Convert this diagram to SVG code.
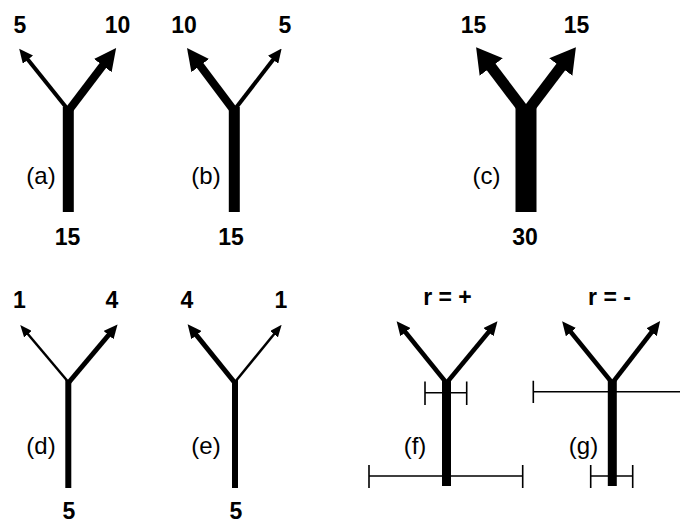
<svg xmlns="http://www.w3.org/2000/svg" width="680" height="519" viewBox="0 0 680 519">
  <style>
    .num { font-family: "Liberation Sans", Arial, sans-serif; font-weight: bold; font-size: 23px; text-anchor: middle; fill: #000; }
    .tag { font-family: "Liberation Sans", Arial, sans-serif; font-size: 24px; text-anchor: middle; fill: #000; }
    .stem { stroke: #000; stroke-linecap: butt; fill: none; }
    .branch { stroke: #000; stroke-linecap: butt; fill: none; }
    .bar { stroke: #000; stroke-width: 1.6; fill: none; }
  </style>
  <defs>
    <!-- arrowheads in user units; base sits at the line end, tip points forward -->
    <marker id="headS" markerUnits="userSpaceOnUse" viewBox="0 0 12 10" markerWidth="12" markerHeight="10" refX="1.5" refY="5" orient="auto">
      <path d="M0,0 L12,5 L0,10 z" fill="#000"/>
    </marker>
    <marker id="headM" markerUnits="userSpaceOnUse" viewBox="0 0 14 13" markerWidth="14" markerHeight="13" refX="1.5" refY="6.5" orient="auto">
      <path d="M0,0 L14,6.5 L0,13 z" fill="#000"/>
    </marker>
    <marker id="headL" markerUnits="userSpaceOnUse" viewBox="0 0 22 22" markerWidth="22" markerHeight="22" refX="2" refY="11" orient="auto">
      <path d="M0,0 L22,11 L0,22 z" fill="#000"/>
    </marker>
    <marker id="headXL" markerUnits="userSpaceOnUse" viewBox="0 0 25 29" markerWidth="25" markerHeight="29" refX="2" refY="14.5" orient="auto">
      <path d="M0,0 L25,14.5 L0,29 z" fill="#000"/>
    </marker>
  </defs>

  <!-- error bars (drawn beneath the stems) -->
  <g id="bars">
    <path class="bar" d="M425,392.7 H466.7 M425,381.5 V405 M466.7,381.5 V405"/>
    <path class="bar" d="M369,476 H522.7 M369,465 V488 M522.7,465 V488"/>
    <path class="bar" d="M533.3,391.7 H680 M533.3,380.7 V403"/>
    <path class="bar" d="M590.7,476 H632.7 M590.7,465 V488 M632.7,465 V488"/>
  </g>

  <g id="connectors">
    <!-- (a) -->
    <line class="stem" x1="68.3" y1="107" x2="68.3" y2="212" stroke-width="11"/>
    <path class="branch" d="M68.3,110 L27,58.5" stroke-width="4" marker-end="url(#headM)"/>
    <path class="branch" d="M68.3,111 L104,64" stroke-width="8" marker-end="url(#headL)"/>
    <!-- (b) -->
    <line class="stem" x1="234.3" y1="107" x2="234.3" y2="212" stroke-width="11"/>
    <path class="branch" d="M234.3,111 L199,64" stroke-width="8" marker-end="url(#headL)"/>
    <path class="branch" d="M234.3,110 L274,58.5" stroke-width="4" marker-end="url(#headM)"/>
    <!-- (c) -->
    <line class="stem" x1="526" y1="107" x2="526" y2="212" stroke-width="21"/>
    <path class="branch" d="M526,113 L490,65.5" stroke-width="11" marker-end="url(#headXL)"/>
    <path class="branch" d="M526,113 L562,65.5" stroke-width="11" marker-end="url(#headXL)"/>
    <!-- (d) -->
    <line class="stem" x1="68.3" y1="380" x2="68.3" y2="488" stroke-width="6"/>
    <path class="branch" d="M68.3,382 L27,333" stroke-width="2.5" marker-end="url(#headS)"/>
    <path class="branch" d="M68.3,383 L109.5,334" stroke-width="5" marker-end="url(#headM)"/>
    <!-- (e) -->
    <line class="stem" x1="235" y1="380" x2="235" y2="488" stroke-width="6"/>
    <path class="branch" d="M235,383 L195.5,334" stroke-width="5" marker-end="url(#headM)"/>
    <path class="branch" d="M235,382 L275,333" stroke-width="2.5" marker-end="url(#headS)"/>
    <!-- (f) -->
    <line class="stem" x1="446.5" y1="380" x2="446.5" y2="486" stroke-width="9"/>
    <path class="branch" d="M446.5,383 L404.5,331" stroke-width="4.5" marker-end="url(#headM)"/>
    <path class="branch" d="M446.5,383 L489.5,331" stroke-width="4.5" marker-end="url(#headM)"/>
    <!-- (g) -->
    <line class="stem" x1="612.3" y1="380" x2="612.3" y2="486" stroke-width="9"/>
    <path class="branch" d="M612.3,383 L570,331" stroke-width="4.5" marker-end="url(#headM)"/>
    <path class="branch" d="M612.3,383 L652.5,331" stroke-width="4.5" marker-end="url(#headM)"/>
  </g>

  <g id="node-a">
    <text class="num" x="20" y="33">5</text>
    <text class="num" x="117.5" y="33">10</text>
    <text class="tag" x="41" y="184">(a)</text>
    <text class="num" x="67.5" y="245">15</text>
  </g>
  <g id="node-b">
    <text class="num" x="184" y="33">10</text>
    <text class="num" x="285" y="33">5</text>
    <text class="tag" x="206" y="184">(b)</text>
    <text class="num" x="231" y="245">15</text>
  </g>
  <g id="node-c">
    <text class="num" x="473.5" y="33">15</text>
    <text class="num" x="576.5" y="33">15</text>
    <text class="tag" x="486.5" y="184">(c)</text>
    <text class="num" x="525" y="245">30</text>
  </g>
  <g id="node-d">
    <text class="num" x="19.5" y="308">1</text>
    <text class="num" x="112" y="308">4</text>
    <text class="tag" x="41" y="454">(d)</text>
    <text class="num" x="69" y="519">5</text>
  </g>
  <g id="node-e">
    <text class="num" x="187" y="308">4</text>
    <text class="num" x="281" y="308">1</text>
    <text class="tag" x="206" y="454">(e)</text>
    <text class="num" x="236" y="519">5</text>
  </g>
  <g id="node-f">
    <text class="num" x="447.5" y="305">r = +</text>
    <text class="tag" x="415" y="454">(f)</text>
  </g>
  <g id="node-g">
    <text class="num" x="609.5" y="305">r = -</text>
    <text class="tag" x="583.5" y="454">(g)</text>
  </g>
</svg>
